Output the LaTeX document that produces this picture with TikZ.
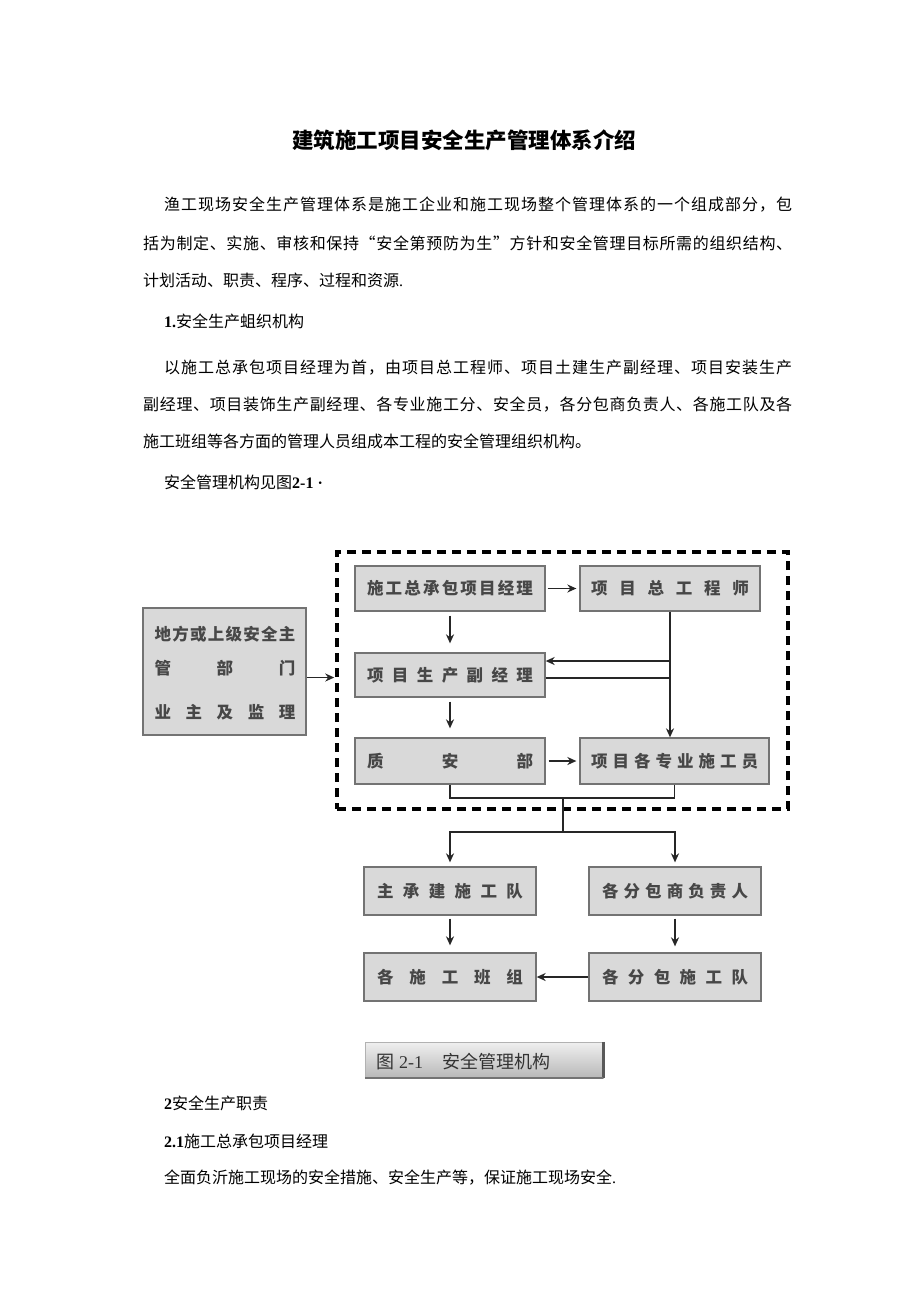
\documentclass[tikz,border=0pt]{standalone}
\usepackage{fontspec}
\setmainfont{Noto Sans CJK SC}
\newfontfamily\lat{Liberation Serif}
\usetikzlibrary{arrows.meta}
\ExplSyntaxOn
\bool_new:N \l_jt_first_bool
\NewDocumentCommand\jt{mm}{
  \makebox[#1][s]{
    \bool_set_true:N \l_jt_first_bool
    \tl_map_inline:nn {#2}{
      \bool_if:NTF \l_jt_first_bool {\bool_set_false:N \l_jt_first_bool}{\hfil}
      ##1
    }
  }
}
\ExplSyntaxOff
\newcommand\bodyfont{\fontsize{16}{20}\selectfont}
\newcommand\bxfont{\fontsize{16.5}{20}\selectfont\bfseries}
\newcommand\capfont{\fontsize{18}{20}\selectfont}
\begin{document}
\begin{tikzpicture}[x=1pt,y=-1pt,
  box/.style={draw=black!55, fill=black!15, line width=1.3pt, inner sep=0pt, minimum height=45pt, text=black!72, font=\bxfont},
  frm/.style={draw=black, line width=3.5pt, dash pattern=on 9pt off 6pt, inner sep=0pt},
  arr/.style={draw=black!85, line width=1.6pt, -{Stealth[length=9pt,width=8pt]}},
  ln/.style={draw=black!85, line width=1.6pt},
  txt/.style={anchor=west, inner sep=0pt, font=\bodyfont},
  lbl/.style={inner sep=0pt, font=\bxfont, text=black!72},
]
\fill[white] (0,0) rectangle (920,1301);
\useasboundingbox (0,0) rectangle (920,1301);

% texts above
\node[inner sep=0pt, font=\fontsize{21.5}{24}\selectfont\bfseries] (title) at (464,140) {建筑施工项目安全生产管理体系介绍};
\node[txt] (p1a) at (164,205) {\jt{628pt}{渔工现场安全生产管理体系是施工企业和施工现场整个管理体系的一个组成部分，包}};
\node[txt] (p1b) at (143,243) {\jt{649pt}{括为制定、实施、审核和保持“安全第预防为生”方针和安全管理目标所需的组织结构、}};
\node[txt] (p1c) at (143,280) {计划活动、职责、程序、过程和资源{\lat .}};
\node[txt] (h1) at (164,321) {{\lat\bfseries 1.}安全生产蛆织机构};
\node[txt] (p2a) at (164,368) {\jt{628pt}{以施工总承包项目经理为首，由项目总工程师、项目土建生产副经理、项目安装生产}};
\node[txt] (p2b) at (143,405) {\jt{649pt}{副经理、项目装饰生产副经理、各专业施工分、安全员，各分包商负责人、各施工队及各}};
\node[txt] (p2c) at (143,441) {施工班组等各方面的管理人员组成本工程的安全管理组织机构。};
\node[txt] (p3) at (164,482) {安全管理机构见图{\lat\bfseries 2-1 ·}};

% diagram
\node[frm, minimum width=451pt, minimum height=257pt] (fr) at (562.5,680.5) {};
\node[box, minimum width=190pt, minimum height=45pt] (A) at (450,588.5) {\jt{166pt}{施工总承包项目经理}};
\node[box, minimum width=180pt, minimum height=45pt] (B) at (670,588.5) {\jt{158pt}{项目总工程师}};
\node[box, minimum width=190pt, minimum height=44pt] (C) at (450,675) {\jt{166pt}{项目生产副经理}};
\node[box, minimum width=190pt, minimum height=46pt] (D) at (450,761) {\jt{166pt}{质安部}};
\node[box, minimum width=189pt, minimum height=46pt] (E) at (674.5,761) {\jt{167pt}{项目各专业施工员}};
\node[box, minimum width=163pt, minimum height=127pt] (L) at (224.5,671.5) {};
\node[lbl] (L1) at (225,634) {\jt{141pt}{地方或上级安全主}};
\node[lbl] (L2) at (225,668) {\jt{141pt}{管部门}};
\node[lbl] (L3) at (225,712) {\jt{141pt}{业主及监理}};
\node[box, minimum width=172pt, minimum height=48pt] (F) at (450,891) {\jt{146pt}{主承建施工队}};
\node[box, minimum width=172pt, minimum height=48pt] (G) at (675,891) {\jt{146pt}{各分包商负责人}};
\node[box, minimum width=172pt, minimum height=48pt] (H) at (450,977) {\jt{146pt}{各施工班组}};
\node[box, minimum width=172pt, minimum height=48pt] (I) at (675,977) {\jt{146pt}{各分包施工队}};

\draw[arr, shorten <=2pt, shorten >=3pt] (A) -- (B);
\draw[arr, shorten <=4pt, shorten >=9pt] (A.south) -- (C.north);
\draw[arr, shorten <=4pt, shorten >=9pt] (C.south) -- (D.north);
\draw[arr, shorten <=3pt, shorten >=3pt] (D) -- (E);
\draw[arr] (B.south) -- (B.south |- E.north);
\coordinate (j1) at (670,661);
\draw[arr] (j1) -- (j1 -| C.east);
\coordinate (j2) at (670,678);
\draw[ln] (j2 -| C.east) -- (j2);
\coordinate (la) at ([yshift=-6pt]L.east);
\draw[arr, shorten >=1pt] (la) -- (la -| fr.west);
\coordinate (m) at (563,798);
\draw[ln] (D.south) |- (m) -| (E.south);
\coordinate (n) at (563,832);
\draw[ln] (m) -- (n);
\draw[arr, shorten >=4pt] (n) -| (F.north);
\draw[arr, shorten >=4pt] (n) -| (G.north);
\draw[arr, shorten <=3pt, shorten >=7pt] (F.south) -- (H.north);
\draw[arr, shorten <=3pt, shorten >=6pt] (G.south) -- (I.north);
\draw[arr] (I.west) -- (H.east);

% caption
\node[inner sep=0pt, minimum width=238pt, minimum height=36pt, top color=black!6, bottom color=black!28, draw=black!30] (cap) at (484,1060) {};
\draw[black!65, line width=3pt] (cap.north east) -- (cap.south east);
\draw[black!55, line width=1.5pt] (cap.south west) -- (cap.south east);
\node[anchor=west, inner sep=0pt, font=\capfont, text=black!80] (capt) at (376,1062) {图\hspace{5pt}{\lat 2-1}\hspace{19pt}安全管理机构};

% texts below
\node[txt] (s2) at (164,1103) {{\lat\bfseries 2}安全生产职责};
\node[txt] (s21) at (164,1141) {{\lat\bfseries 2.1}施工总承包项目经理};
\node[txt] (s3) at (164,1178) {全面负沂施工现场的安全措施、安全生产等，保证施工现场安全{\lat .}};
\end{tikzpicture}
\end{document}
